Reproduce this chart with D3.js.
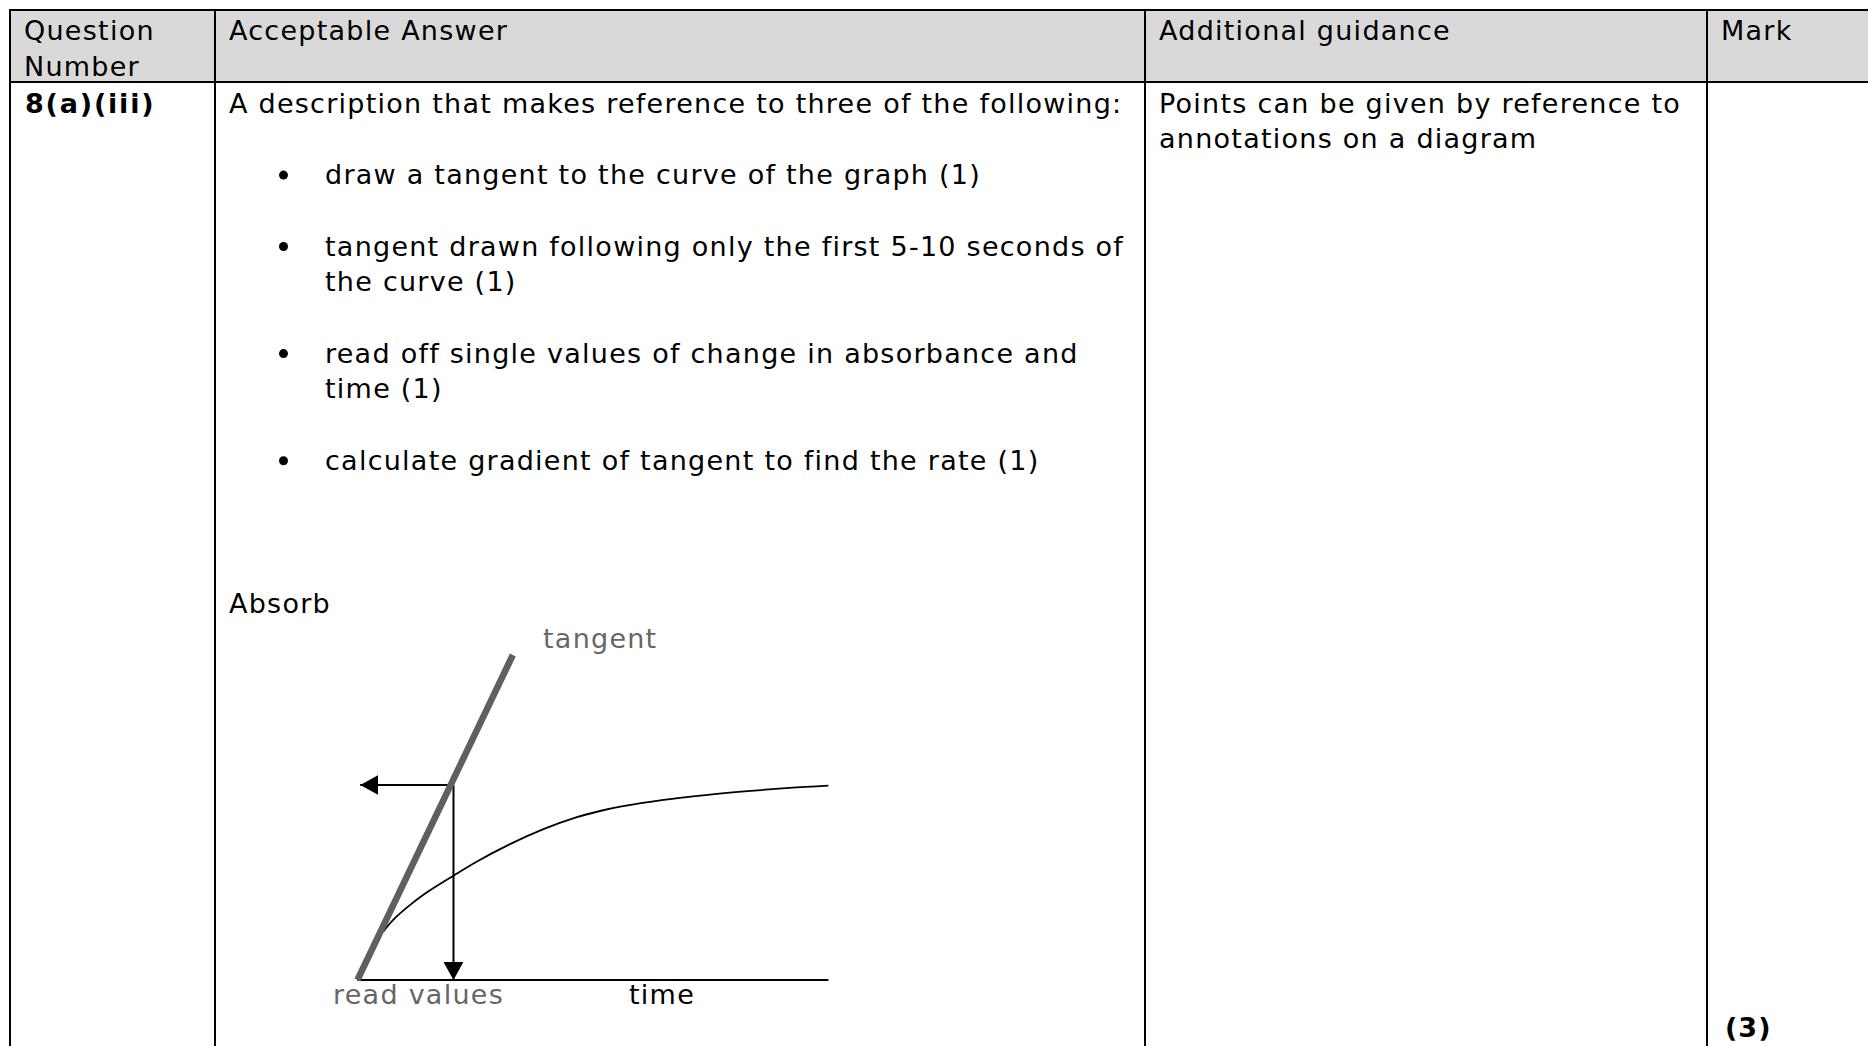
<!DOCTYPE html>
<html>
<head>
<meta charset="utf-8">
<script src="https://cdn.jsdelivr.net/npm/d3@7"></script>
<style>
  body { margin: 0; background: #fff; overflow: hidden; }
  text { font-family: "DejaVu Sans", Verdana, sans-serif; }
</style>
</head>
<body>
<script>
//table text
var headCells = [["Question", "Number"], ["Acceptable Answer"], ["Additional guidance"], ["Mark"]];
var questionNumber = "8(a)(iii)";
var answerIntro = "A description that makes reference to three of the following:";
var answerPoints = [
    ["draw a tangent to the curve of the graph (1)"],
    ["tangent drawn following only the first 5-10 seconds of", "the curve (1)"],
    ["read off single values of change in absorbance and", "time (1)"],
    ["calculate gradient of tangent to find the rate (1)"]
];
var guidanceLines = ["Points can be given by reference to", "annotations on a diagram"];
var markTotal = "(3)";

//diagram data (time vs absorbance, arbitrary units 0-100)
var curveTime    = [5.5, 7.6, 11.2, 14.7, 20.4, 25.3, 32.4, 39.5, 46.6, 51.5, 56.1, 65.0, 73.9, 82.8, 91.7, 100];
var curveAbsorb  = [14.9, 18.5, 23.1, 26.9, 32.1, 36.4, 41.8, 46.4, 50.1, 52.0, 53.4, 55.4, 56.9, 58.1, 59.1, 59.8];
var tangentTime  = [0, 33];
var tangentAbsorb = [0, 100];
var readPoint = [20.4, 60];
var readArrowEnd = [0.6, 0];
var axisTime = [0, 100];
var diagramLabels = ["Absorb", "tangent", "read values", "time"];

//page size and table layout
var width = 1868, height = 1046;
var colEdges = [10, 215, 1145, 1707, 1880];
var tableTop = 10, headBottom = 82;
var lineH = 35.7, fontSize = 27, spacing = 1.25;

var svg = d3.select("body").append("svg")
    .attr("width", width)
    .attr("height", height);

//header background
svg.append("rect")
    .attr("x", colEdges[0]).attr("y", tableTop)
    .attr("width", width - colEdges[0]).attr("height", headBottom - tableTop)
    .attr("fill", "#d9d9d9");

//helper for a plain line of text
function addText(tx, ty, t) {
    return svg.append("text")
        .attr("x", tx).attr("y", ty)
        .attr("font-size", fontSize)
        .attr("letter-spacing", spacing)
        .text(t);
}

//header text
headCells.forEach(function(lines, i) {
    lines.forEach(function(t, j) {
        addText(colEdges[i] + 14, 40 + j * lineH, t);
    });
});

var body0 = 112.7;

//question number
addText(25, body0, questionNumber)
    .attr("font-weight", "bold")
    .attr("letter-spacing", 1.8);

//acceptable answer
addText(229, body0, answerIntro);

var row = 2;
answerPoints.forEach(function(lines) {
    svg.append("circle")
        .attr("cx", 283.5)
        .attr("cy", body0 + row * lineH - 9)
        .attr("r", 4.5)
        .attr("fill", "#000");
    lines.forEach(function(t, j) {
        addText(325, body0 + (row + j) * lineH, t);
    });
    row += lines.length + 1;
});

//guidance
guidanceLines.forEach(function(t, j) {
    addText(1159, body0 + j * lineH, t);
});

//mark
addText(1725, 1037, markTotal)
    .attr("font-weight", "bold")
    .attr("letter-spacing", 1);

//diagram scales
var x = d3.scaleLinear().domain([0, 100]).range([357.4, 828.4]);
var y = d3.scaleLinear().domain([0, 100]).range([980, 655]);

//arrow head marker
svg.append("defs").append("marker")
    .attr("id", "head")
    .attr("markerUnits", "userSpaceOnUse")
    .attr("viewBox", "0 0 18 20")
    .attr("markerWidth", 18).attr("markerHeight", 20)
    .attr("refX", 18).attr("refY", 10)
    .attr("orient", "auto")
    .append("path")
    .attr("d", "M0,0L18,10L0,20Z")
    .attr("fill", "#000");

//time axis
svg.append("line")
    .attr("x1", x(axisTime[0])).attr("x2", x(axisTime[1]))
    .attr("y1", y(0)).attr("y2", y(0))
    .attr("stroke", "#000").attr("stroke-width", 2);

//absorbance curve
var curveData = curveTime.map(function(t, i) { return [t, curveAbsorb[i]]; });
svg.append("path")
    .datum(curveData)
    .attr("d", d3.line()
        .x(function(d) { return x(d[0]); })
        .y(function(d) { return y(d[1]); })
        .curve(d3.curveCatmullRom))
    .attr("fill", "none")
    .attr("stroke", "#000")
    .attr("stroke-width", 1.8);

//arrows from the read point
svg.append("line")
    .attr("x1", x(readPoint[0])).attr("y1", y(readPoint[1]))
    .attr("x2", x(readArrowEnd[0])).attr("y2", y(readPoint[1]))
    .attr("stroke", "#000").attr("stroke-width", 2)
    .attr("marker-end", "url(#head)");
svg.append("line")
    .attr("x1", x(readPoint[0])).attr("y1", y(readPoint[1]))
    .attr("x2", x(readPoint[0])).attr("y2", y(readArrowEnd[1]))
    .attr("stroke", "#000").attr("stroke-width", 2)
    .attr("marker-end", "url(#head)");

//tangent
svg.append("line")
    .attr("x1", x(tangentTime[0])).attr("y1", y(tangentAbsorb[0]))
    .attr("x2", x(tangentTime[1])).attr("y2", y(tangentAbsorb[1]))
    .attr("stroke", "#5f5f5f").attr("stroke-width", 6.5);

//diagram labels
addText(229, 613, diagramLabels[0]);
addText(543, 648, diagramLabels[1]).attr("fill", "#666");
addText(333, 1004, diagramLabels[2]).attr("fill", "#666");
addText(629, 1004, diagramLabels[3]);

//table grid lines
svg.append("line")
    .attr("x1", colEdges[0]).attr("x2", width)
    .attr("y1", tableTop).attr("y2", tableTop)
    .attr("stroke", "#000").attr("stroke-width", 2);
svg.append("line")
    .attr("x1", colEdges[0]).attr("x2", width)
    .attr("y1", headBottom).attr("y2", headBottom)
    .attr("stroke", "#000").attr("stroke-width", 2);
colEdges.slice(0, 4).forEach(function(cx) {
    svg.append("line")
        .attr("x1", cx).attr("x2", cx)
        .attr("y1", tableTop - 1).attr("y2", height)
        .attr("stroke", "#000").attr("stroke-width", 2);
});
</script>
</body>
</html>
